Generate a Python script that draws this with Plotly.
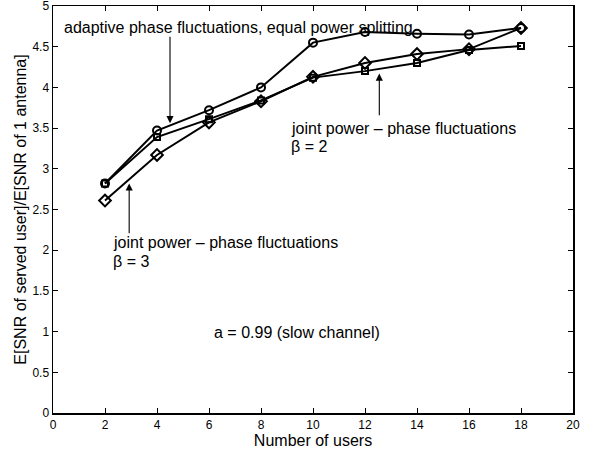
import plotly.graph_objects as go

users = [2, 4, 6, 8, 10, 12, 14, 16, 18]
adaptive_equal = [2.82, 3.47, 3.72, 4.00, 4.55, 4.68, 4.66, 4.65, 4.73]
joint_beta2 = [2.82, 3.39, 3.61, 3.84, 4.12, 4.20, 4.30, 4.46, 4.51]
joint_beta3 = [2.61, 3.17, 3.57, 3.83, 4.13, 4.30, 4.41, 4.47, 4.73]

x_ticks = list(range(0, 21, 2))
y_ticks = [0, 0.5, 1, 1.5, 2, 2.5, 3, 3.5, 4, 4.5, 5]

FONT = "Liberation Sans, Arial, Helvetica, sans-serif"

fig = go.Figure()
fig.add_trace(go.Scatter(x=users, y=joint_beta3, mode="lines+markers",
                         line=dict(color="black", width=2),
                         marker=dict(symbol="diamond-open", size=9, color="black", line=dict(width=2))))
fig.add_trace(go.Scatter(x=users, y=joint_beta2, mode="lines+markers",
                         line=dict(color="black", width=2),
                         marker=dict(symbol="square-open", size=6, color="black", line=dict(width=2))))
fig.add_trace(go.Scatter(x=users, y=adaptive_equal, mode="lines+markers",
                         line=dict(color="black", width=2),
                         marker=dict(symbol="circle-open", size=8, color="black", line=dict(width=2))))

def arrow(x, y_tip, y_tail):
    fig.add_annotation(x=x, y=y_tip, ax=x, ay=y_tail, xref="x", yref="y", axref="x", ayref="y",
                       text="", showarrow=True, arrowhead=2, arrowsize=1.3, arrowwidth=1.1,
                       arrowcolor="black", standoff=0)

def label(x, y, txt):
    fig.add_annotation(x=x, y=y, xref="x", yref="y", text=txt, showarrow=False,
                       xanchor="left", yanchor="middle", font=dict(size=16, color="black", family=FONT))

arrow(4.5, 3.56, 4.64)
label(0.33, 4.74, "adaptive phase fluctuations, equal power splitting")
arrow(12.55, 4.17, 3.64)
label(9.08, 3.50, "joint power – phase fluctuations")
label(9.08, 3.27, "β = 2")
arrow(2.93, 2.82, 2.19)
label(2.22, 2.09, "joint power – phase fluctuations")
label(2.22, 1.86, "β = 3")
fig.add_annotation(x=9.4, y=0.99, xref="x", yref="y", text="a = 0.99 (slow channel)", showarrow=False,
                   xanchor="center", yanchor="middle", font=dict(size=16, color="black", family=FONT))

axis_common = dict(showline=True, linecolor="black", linewidth=1.5, mirror="ticks", ticks="inside",
                   ticklen=5, tickwidth=1, tickcolor="black", showgrid=False, zeroline=False,
                   automargin=False, ticklabeloverflow="allow",
                   tickfont=dict(size=12, color="black", family=FONT))
fig.update_xaxes(range=[0, 20], tickvals=x_ticks, ticktext=[str(v) for v in x_ticks],
                 title=dict(text="Number of users", font=dict(size=16, color="black", family=FONT), standoff=2),
                 **axis_common)
fig.update_yaxes(range=[0, 5], tickvals=y_ticks, ticktext=[f"{v:g}" for v in y_ticks],
                 title=dict(text="E[SNR of served user]/E[SNR of 1 antenna]",
                            font=dict(size=16, color="black", family=FONT), standoff=2),
                 **axis_common)
fig.update_layout(template="none", width=602, height=455,
                  margin=dict(l=53, r=29, t=6, b=42, autoexpand=False),
                  paper_bgcolor="white", plot_bgcolor="white", showlegend=False,
                  font=dict(family=FONT, color="black"))
fig.write_html("out.html", config={"displayModeBar": False, "staticPlot": True},
               post_script="document.body.style.margin='0';document.body.style.overflow='hidden';")

with open("out.html", encoding="utf-8") as f:
    html = f.read()
html = html.replace("<head>", "<head><style>html,body{margin:0;padding:0;overflow:hidden;}</style>", 1)
with open("out.html", "w", encoding="utf-8") as f:
    f.write(html)
